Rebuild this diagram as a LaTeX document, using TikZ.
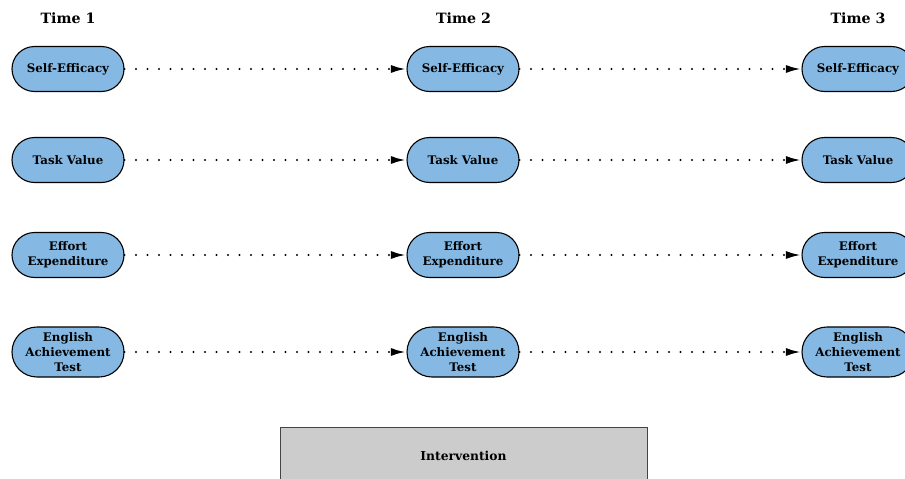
\documentclass[tikz,border=0pt]{standalone}
\usepackage{fontspec}
\setmainfont{DejaVu Serif}
\usetikzlibrary{shapes.misc,arrows.meta}
\definecolor{nodeblue}{HTML}{85B9E3}
\definecolor{boxgray}{HTML}{CCCCCC}
\definecolor{boxedge}{HTML}{444444}
\tikzset{
  var/.style={rounded rectangle, draw=black, line width=1.1pt, fill=nodeblue,
    minimum width=114pt, minimum height=45pt, align=center, inner sep=1pt,
    font=\fontsize{11.8}{14.6}\selectfont\bfseries},
  tall/.style={minimum height=50pt},
  timelbl/.style={font=\fontsize{14.2}{16}\selectfont\bfseries},
  dotarrow/.style={line width=2.2pt, line cap=round, dash pattern=on 0pt off 11.5pt,
    -{Latex[length=15pt,width=8pt]}, shorten >=0.5pt},
  interv/.style={rectangle, draw=boxedge, line width=1pt, fill=boxgray,
    minimum width=367pt, minimum height=58pt, font=\fontsize{12.3}{14}\selectfont\bfseries}
}
\begin{document}
\begin{tikzpicture}[x=1pt,y=-1pt]
\useasboundingbox (0,0) rectangle (905,479);
\node[timelbl] (t1) at (68,18) {Time 1};
\node[timelbl] (t2) at (463.5,18) {Time 2};
\node[timelbl] (t3) at (858,18) {Time 3};
\foreach \c/\x in {a/68,b/463,c/858}{
  \node[var] (se\c) at (\x,69) {Self-Efficacy};
  \node[var] (tv\c) at (\x,160) {Task Value};
  \node[var] (ee\c) at (\x,255) {Effort\\Expenditure};
  \node[var,tall] (ea\c) at (\x,352) {English\\Achievement\\Test};
}
\foreach \r in {se,tv,ee,ea}{
  \draw[dotarrow] (\r a.east) -- (\r b.west);
  \draw[dotarrow] (\r b.east) -- (\r c.west);
}
\node[interv] (int) at (463.5,456) {Intervention};
\end{tikzpicture}
\end{document}
